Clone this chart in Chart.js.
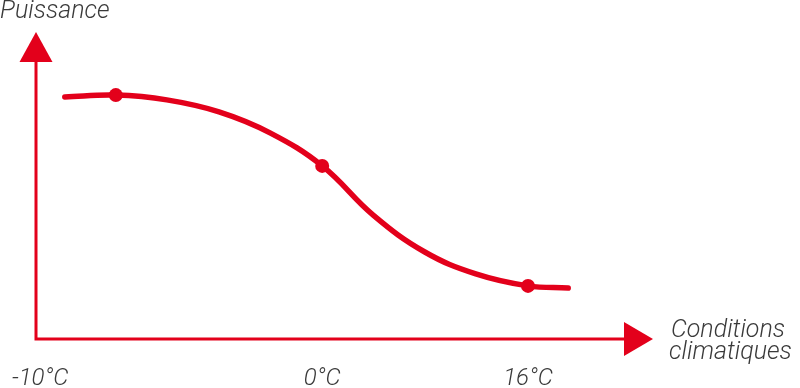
<!DOCTYPE html>
<html>
<head>
<meta charset="utf-8">
<script src="https://cdn.jsdelivr.net/npm/chart.js@4.4.1/dist/chart.umd.min.js"></script>
<style>
html,body{margin:0;padding:0;background:#fff;}
#wrap{width:800px;height:388px;position:relative;}
</style>
</head>
<body>
<div id="wrap"><canvas id="c" width="800" height="388"></canvas></div>
<script>
// Curve samples (x: position along the axis, y: power, arbitrary units)
const curveX = [4.8, 13.3, 21.8, 30.5, 39.0, 47.7, 56.2, 64.8, 73.3, 82.0, 88.7];
const curveY = [80.7, 81.3, 79.7, 75.7, 68.7, 57.7, 41.3, 29.0, 21.7, 17.7, 17.0];
// Marked points
const markX = [13.3, 47.7, 82.0];
const markY = [81.3, 57.7, 17.7];
// Tick labels on the x axis
const tickValues = [0.7, 47.7, 82.0];
const tickLabels = ['-10°C', '0°C', '16°C'];
const yTitle = 'Puissance';
const xTitle = ['Conditions', 'climatiques'];

const RED = '#e3001b';
const TXT = '#3a3a3a';
const FONT = 'Roboto';

const axesPlugin = {
  id: 'axesArrows',
  afterLayout(chart) {
    // pin the plot area so the axis origin sits where the reference has it
    const a = chart.chartArea;
    const xs = chart.scales.x;
    const dx = 36 - a.left;
    if (Math.abs(dx) > 0.1) {
      a.left += dx; a.right += dx;
      xs.left += dx; xs.right += dx;
      xs.configure();
    }
  },
  beforeDatasetsDraw(chart) {
    const ctx = chart.ctx;
    const xs = chart.scales.x, ys = chart.scales.y;
    const ox = xs.getPixelForValue(0);
    const oy = ys.getPixelForValue(0);
    ctx.save();
    ctx.strokeStyle = RED;
    ctx.fillStyle = RED;
    ctx.lineWidth = 3;
    ctx.beginPath();
    ctx.moveTo(ox, 60);
    ctx.lineTo(ox, oy);
    ctx.lineTo(626, oy);
    ctx.stroke();
    // y arrow
    ctx.beginPath();
    ctx.moveTo(ox, 32);
    ctx.lineTo(ox - 16.5, 62);
    ctx.lineTo(ox + 16.5, 62);
    ctx.closePath();
    ctx.fill();
    // x arrow
    ctx.beginPath();
    ctx.moveTo(653, oy);
    ctx.lineTo(624, oy - 17);
    ctx.lineTo(624, oy + 17);
    ctx.closePath();
    ctx.fill();
    ctx.restore();
  },
  afterDraw(chart) {
    const ctx = chart.ctx;
    ctx.save();
    ctx.fillStyle = TXT;
    ctx.font = 'italic 300 25px ' + FONT;
    ctx.textAlign = 'left';
    ctx.textBaseline = 'alphabetic';
    ctx.fillText(yTitle, 0, 18);
    ctx.fillText(xTitle[0], 671, 337);
    ctx.fillText(xTitle[1], 669, 359);
    ctx.restore();
  }
};

new Chart(document.getElementById('c'), {
  type: 'line',
  data: {
    datasets: [
      {
        data: curveX.map((x, i) => ({x: x, y: curveY[i]})),
        borderColor: RED,
        borderWidth: 5.5,
        borderCapStyle: 'round',
        tension: 0.4,
        pointRadius: 0,
        fill: false
      },
      {
        data: markX.map((x, i) => ({x: x, y: markY[i]})),
        showLine: false,
        pointRadius: 7,
        pointBackgroundColor: RED,
        pointBorderWidth: 0,
        borderColor: RED
      }
    ]
  },
  options: {
    responsive: false,
    animation: false,
    events: [],
    layout: {autoPadding: false, padding: {left: 36, right: 164, top: 39, bottom: 0}},
    plugins: {legend: {display: false}, tooltip: {enabled: false}},
    scales: {
      x: {
        type: 'linear',
        min: 0,
        max: 100,
        border: {display: false},
        grid: {display: false, drawTicks: false},
        afterBuildTicks(scale) { scale.ticks = tickValues.map(v => ({value: v})); },
        afterFit(scale) { scale.height = 49; scale.paddingLeft = 0; scale.paddingRight = 0; },
        ticks: {
          padding: 26,
          maxRotation: 0,
          autoSkip: false,
          color: TXT,
          font: {family: FONT, size: 24, style: 'italic', weight: '300'},
          callback(v) { const i = tickValues.indexOf(v); return i >= 0 ? tickLabels[i] : ''; }
        }
      },
      y: {
        type: 'linear',
        min: 0,
        max: 100,
        display: false
      }
    }
  },
  plugins: [axesPlugin]
});
</script>
</body>
</html>
